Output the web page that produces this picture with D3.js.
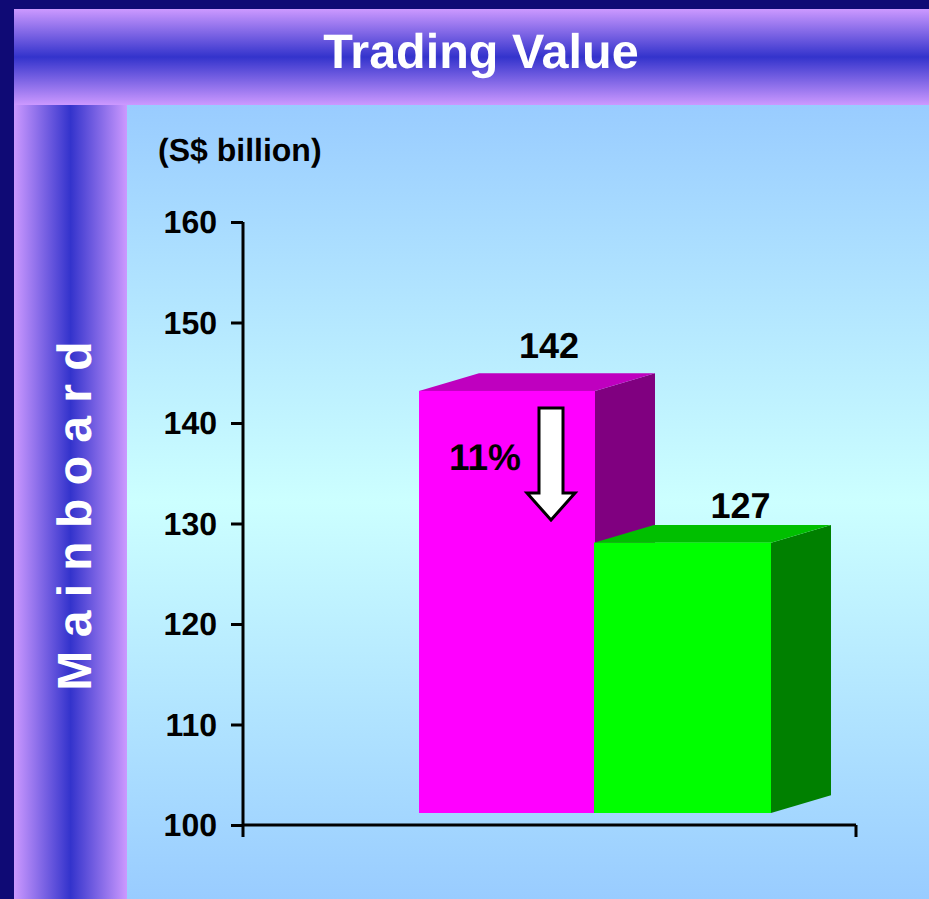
<!DOCTYPE html>
<html>
<head>
<meta charset="utf-8">
<title>Trading Value</title>
<script src="https://cdn.jsdelivr.net/npm/d3@7"></script>
<style>
  html, body { margin: 0; padding: 0; background: #0f0a75; overflow: hidden; }
  svg { display: block; }
  text { font-family: "Liberation Sans", Arial, sans-serif; font-weight: bold; text-rendering: geometricPrecision; }
</style>
</head>
<body>
<div id="chart"></div>
<script>
const periods = ['Previous year', 'Current year'];
const tradingValue = [142, 126.9];
const valueLabels = ['142', '127'];
const frontColors = ['#ff00ff', '#00ff00'];
const topColors = ['#bf00bf', '#00bf00'];
const sideColors = ['#800080', '#008000'];
const yTicks = [100, 110, 120, 130, 140, 150, 160];
const changeLabel = '11%';

const width = 929;
const height = 899;
const depthX = 60;
const depthY = 17.7;
const floorLift = 12;

const svg = d3.select('#chart').append('svg').attr('width', width).attr('height', height);
const defs = svg.append('defs');

const addGradient = (id, vertical, stops) => {
  const grad = defs
    .append('linearGradient')
    .attr('id', id)
    .attr('x1', 0)
    .attr('y1', 0)
    .attr('x2', vertical ? 0 : 1)
    .attr('y2', vertical ? 1 : 0);
  stops.forEach(([offset, color]) => {
    grad.append('stop').attr('offset', offset).attr('stop-color', color);
  });
};

addGradient('bandTop', true, [[0, '#cc99ff'], [0.5, '#3333cc'], [1, '#cc99ff']]);
addGradient('bandLeft', false, [[0, '#cc99ff'], [0.5, '#3333cc'], [1, '#cc99ff']]);
addGradient('panel', true, [[0, '#99ccff'], [0.5, '#ccffff'], [1, '#99ccff']]);

svg.append('rect').attr('width', width).attr('height', height).attr('fill', '#0f0a75');
svg.append('rect').attr('x', 14).attr('y', 104).attr('width', 113).attr('height', 795).attr('fill', 'url(#bandLeft)');
svg.append('rect').attr('x', 14).attr('y', 9).attr('width', 915).attr('height', 96).attr('fill', 'url(#bandTop)');
svg.append('rect').attr('x', 127).attr('y', 105).attr('width', 802).attr('height', 794).attr('fill', 'url(#panel)');

svg.append('text')
  .attr('x', 481)
  .attr('y', 68)
  .attr('text-anchor', 'middle')
  .attr('font-size', 48.5)
  .attr('fill', '#fff')
  .text('Trading Value');

svg.append('text')
  .attr('transform', 'translate(91,516) rotate(-90)')
  .attr('text-anchor', 'middle')
  .attr('font-size', 48)
  .attr('fill', '#fff')
  .attr('xml:space', 'preserve')
  .text('M a i n b o a r d');

svg.append('text')
  .attr('x', 158)
  .attr('y', 161)
  .attr('font-size', 32)
  .attr('fill', '#000')
  .text('(S$ billion)');

const y = d3.scaleLinear().domain([100, 160]).range([825, 222]);
const x = d3.scaleBand().domain(periods).range([419, 771]);

const yAxis = svg.append('g')
  .attr('transform', 'translate(243,0)')
  .call(d3.axisLeft(y).tickValues(yTicks).tickSize(12).tickSizeOuter(0).tickPadding(14));
yAxis.select('.domain').remove();
yAxis.selectAll('line').attr('stroke', '#000').attr('stroke-width', 3);
yAxis.selectAll('text').attr('font-size', 32).attr('fill', '#000').attr('dy', '0.33em');

const axisLines = [
  [243, 222, 243, 837],
  [243, 825, 856, 825],
  [856, 825, 856, 837]
];
svg.append('g')
  .selectAll('line')
  .data(axisLines)
  .enter()
  .append('line')
  .attr('x1', (d) => d[0])
  .attr('y1', (d) => d[1])
  .attr('x2', (d) => d[2])
  .attr('y2', (d) => d[3])
  .attr('stroke', '#000')
  .attr('stroke-width', 3);

const bars = periods.map((p, i) => ({
  label: valueLabels[i],
  x0: x(p) - i, // the second bar overlaps the first by a pixel
  x1: x(p) + x.bandwidth(),
  top: y(tradingValue[i]) - floorLift,
  base: y(100) - floorLift,
  i
}));

const barG = svg.append('g');
bars.forEach((b) => {
  const g = barG.append('g');
  g.append('path')
    .attr('d', `M${b.x1},${b.top}L${b.x1 + depthX},${b.top - depthY}L${b.x1 + depthX},${b.base - depthY}L${b.x1},${b.base}Z`)
    .attr('fill', sideColors[b.i]);
  g.append('path')
    .attr('d', `M${b.x0},${b.top}L${b.x0 + depthX},${b.top - depthY}L${b.x1 + depthX},${b.top - depthY}L${b.x1},${b.top}Z`)
    .attr('fill', topColors[b.i]);
  g.append('rect')
    .attr('x', b.x0)
    .attr('y', b.top)
    .attr('width', b.x1 - b.x0)
    .attr('height', b.base - b.top)
    .attr('fill', frontColors[b.i]);
  // the two value labels do not sit at the same offset in the source chart
  svg.append('text')
    .attr('x', (b.x0 + b.x1) / 2 + (b.i === 0 ? 42 : 58))
    .attr('y', b.top + (b.i === 0 ? -33 : -25))
    .attr('text-anchor', 'middle')
    .attr('font-size', 36)
    .attr('fill', '#000')
    .text(b.label);
});

// down arrow between the two bar heights
const arrow = d3.line()([
  [539, 408], [563, 408], [563, 493], [575, 493], [551, 520], [527, 493], [539, 493]
]) + 'Z';
svg.append('path')
  .attr('d', arrow)
  .attr('fill', '#fff')
  .attr('stroke', '#000')
  .attr('stroke-width', 3);

svg.append('text')
  .attr('x', 485)
  .attr('y', 470)
  .attr('text-anchor', 'middle')
  .attr('font-size', 37)
  .attr('fill', '#000')
  .text(changeLabel);
</script>
</body>
</html>
